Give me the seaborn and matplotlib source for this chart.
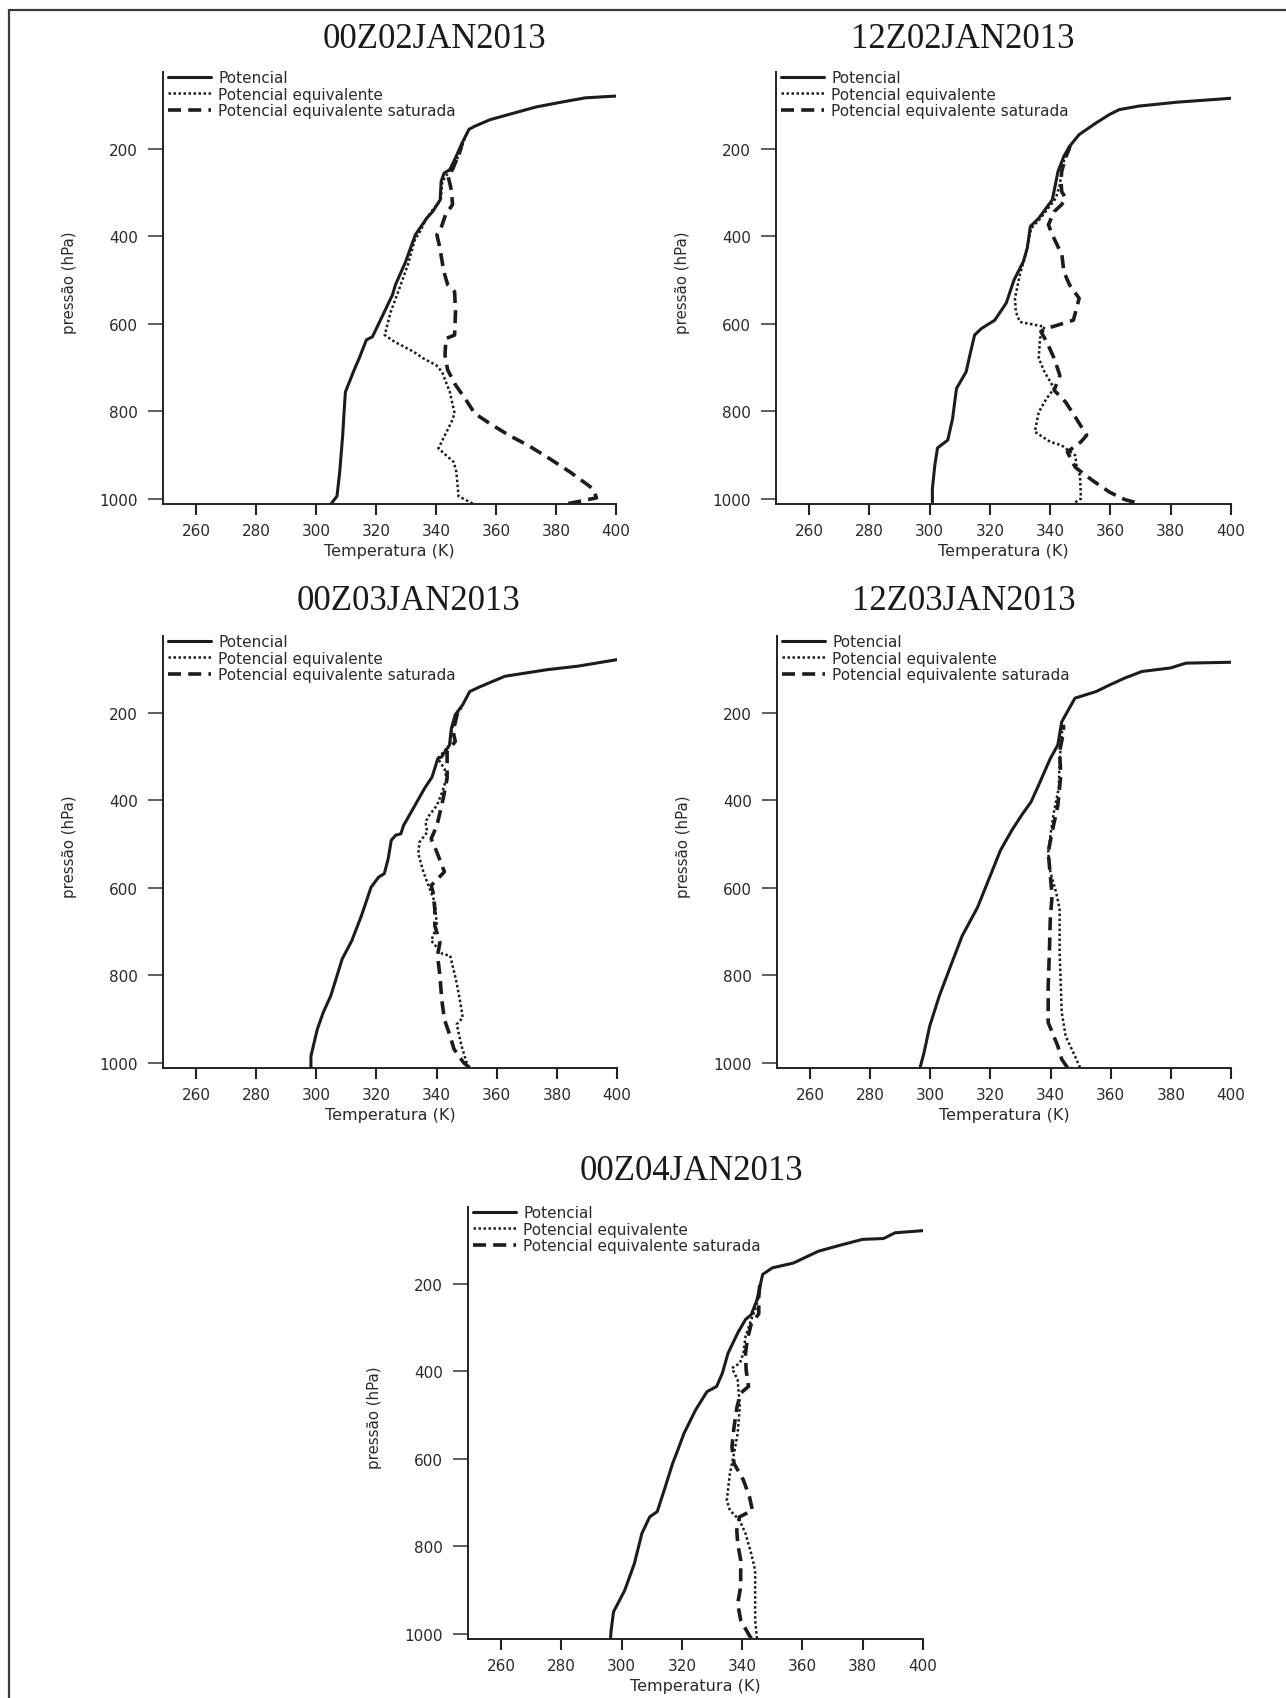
import matplotlib
matplotlib.use("Agg")
import matplotlib.pyplot as plt
import seaborn as sns
from matplotlib.lines import Line2D

# ---------------- data ----------------
titles = ["00Z02JAN2013", "12Z02JAN2013", "00Z03JAN2013", "12Z03JAN2013", "00Z04JAN2013"]
labels = ["Potencial", "Potencial equivalente", "Potencial equivalente saturada"]
xticks = [260, 280, 300, 320, 340, 360, 380, 400]
yticks = [200, 400, 600, 800, 1000]

# 00Z02JAN2013
p1_pot = [1011, 994, 939, 855, 808, 756, 706, 679, 637, 630, 580, 534, 511, 458, 397, 359, 344, 317, 275, 256, 248, 221, 183, 156, 149, 134, 122, 105, 95, 84, 80]
t1_pot = [305.1, 307.0, 307.9, 308.9, 309.3, 309.8, 312.7, 314.4, 316.8, 318.8, 322.3, 325.5, 326.5, 329.9, 333.1, 336.9, 338.9, 341.4, 341.7, 342.7, 344.6, 346.5, 349.0, 351.0, 352.9, 358.0, 364.3, 373.3, 380.9, 389.8, 400.0]
p1_eq = [1011, 994, 939, 916, 885, 824, 805, 756, 710, 695, 679, 664, 641, 626, 573, 527, 466, 405, 397, 359, 340, 317, 275, 256, 237, 214, 187, 165]
t1_eq = [352.2, 347.5, 346.8, 345.9, 340.8, 345.2, 346.2, 344.6, 342.0, 340.1, 335.7, 332.5, 326.1, 322.9, 324.9, 327.4, 330.6, 333.1, 334.1, 336.9, 338.9, 341.6, 342.1, 344.0, 345.9, 347.8, 349.0, 350.3]
p1_sat = [1011, 998, 977, 939, 905, 878, 855, 828, 805, 771, 740, 706, 672, 634, 626, 573, 527, 511, 481, 427, 397, 389, 363, 351, 328, 298, 279, 260, 248, 210, 187]
t1_sat = [384.1, 393.5, 392.3, 384.7, 377.1, 370.7, 364.3, 357.9, 352.9, 349.7, 346.5, 343.9, 343.0, 343.3, 346.2, 346.5, 346.2, 343.9, 342.6, 341.3, 340.3, 341.3, 342.6, 343.2, 345.5, 345.2, 344.6, 343.9, 345.5, 347.8, 348.8]

# 12Z02JAN2013
p2_pot = [1008, 977, 924, 884, 866, 817, 748, 710, 679, 626, 611, 592, 553, 500, 458, 427, 378, 359, 317, 252, 218, 195, 168, 141, 122, 111, 103, 94, 85]
t2_pot = [300.9, 300.9, 301.7, 302.6, 306.0, 307.6, 308.9, 312.1, 313.1, 314.9, 317.2, 321.6, 325.4, 328.0, 331.1, 332.4, 333.4, 336.2, 340.7, 342.6, 344.5, 346.4, 349.6, 355.3, 359.7, 362.9, 369.3, 382.0, 400.0]
p2_eq = [1008, 1000, 947, 931, 901, 878, 870, 847, 802, 771, 748, 710, 679, 634, 607, 596, 573, 542, 489, 443, 405, 382, 359, 313, 282, 252, 229, 208, 193]
t2_eq = [348.3, 350.2, 349.9, 348.9, 348.3, 343.8, 340.0, 334.9, 336.2, 338.8, 341.3, 338.1, 336.2, 336.6, 338.1, 329.9, 328.6, 328.3, 329.9, 331.8, 333.0, 333.7, 336.8, 341.9, 343.2, 343.8, 344.5, 345.7, 347.0]
p2_sat = [1008, 1002, 985, 958, 928, 893, 870, 855, 813, 779, 752, 718, 679, 641, 618, 611, 603, 592, 542, 511, 481, 443, 397, 374, 344, 328, 313, 298, 275, 252, 221, 199]
t2_sat = [368.0, 364.8, 359.7, 354.0, 348.3, 345.7, 350.2, 352.1, 348.3, 345.1, 341.3, 343.2, 341.3, 338.8, 336.9, 338.8, 342.6, 347.7, 349.6, 346.4, 344.5, 343.9, 340.7, 339.4, 341.3, 343.8, 345.1, 343.8, 343.6, 343.8, 345.1, 346.4]

# 00Z03JAN2013
p3_pot = [1011, 985, 924, 885, 847, 763, 721, 664, 599, 576, 568, 534, 492, 480, 477, 458, 412, 373, 347, 305, 301, 274, 236, 205, 182, 152, 141, 117, 102, 94, 79]
t3_pot = [298.2, 298.2, 300.3, 302.3, 304.8, 308.6, 311.8, 315.0, 318.2, 320.7, 322.6, 323.9, 324.9, 326.4, 328.1, 329.0, 332.8, 336.0, 338.5, 340.4, 341.7, 344.3, 344.9, 346.2, 348.7, 351.0, 354.4, 362.7, 376.7, 386.9, 400.0]
p3_eq = [1011, 1000, 962, 912, 897, 855, 809, 755, 752, 721, 687, 633, 599, 564, 522, 496, 473, 450, 435, 412, 381, 350, 328, 305, 274, 236, 205, 185]
t3_eq = [350.9, 350.0, 348.3, 346.7, 348.7, 347.7, 346.4, 344.5, 342.0, 338.2, 340.1, 339.4, 337.5, 335.6, 333.9, 334.3, 336.9, 336.3, 337.5, 340.1, 341.9, 343.3, 342.6, 340.4, 344.3, 345.2, 346.5, 348.7]
p3_sat = [1011, 1000, 969, 939, 901, 855, 801, 755, 725, 687, 649, 610, 595, 564, 519, 488, 458, 435, 396, 350, 320, 289, 266, 243, 205, 190]
t3_sat = [350.9, 349.0, 345.8, 344.5, 342.6, 341.7, 341.1, 340.3, 341.1, 339.4, 339.4, 338.8, 338.2, 342.6, 340.1, 338.2, 340.1, 340.9, 342.2, 343.5, 343.5, 343.5, 346.2, 345.5, 346.8, 348.1]

# 12Z03JAN2013
p4_pot = [1011, 977, 916, 847, 778, 710, 645, 580, 515, 469, 435, 404, 366, 305, 274, 221, 205, 167, 152, 137, 121, 106, 98, 87, 85]
t4_pot = [296.6, 297.9, 299.8, 303.0, 306.8, 310.6, 315.7, 319.5, 323.3, 327.1, 330.3, 333.5, 336.0, 339.9, 342.4, 343.7, 345.0, 348.1, 355.1, 359.6, 364.7, 370.4, 379.9, 385.0, 400.0]
p4_eq = [1011, 985, 939, 885, 824, 748, 648, 610, 564, 519, 473, 427, 373, 312, 251, 228]
t4_eq = [349.8, 348.1, 345.0, 343.7, 343.4, 343.0, 343.0, 341.8, 339.9, 339.2, 340.1, 341.1, 342.7, 343.0, 343.7, 344.0]
p4_sat = [1011, 992, 962, 908, 824, 748, 671, 618, 572, 519, 473, 412, 343, 289, 244, 228]
t4_sat = [345.6, 343.7, 342.4, 339.2, 339.2, 339.6, 339.9, 340.5, 339.9, 339.2, 340.5, 342.4, 343.4, 343.0, 344.3, 344.3]

# 00Z04JAN2013
p5_pot = [1011, 992, 950, 901, 840, 771, 733, 721, 668, 611, 588, 542, 489, 447, 435, 405, 359, 313, 282, 271, 237, 206, 179, 164, 153, 126, 114, 99, 97, 84, 79]
t5_pot = [296.3, 296.5, 297.3, 301.0, 304.2, 306.7, 309.3, 311.8, 314.3, 316.9, 318.2, 320.7, 324.5, 328.3, 331.5, 333.4, 335.3, 338.5, 341.1, 343.0, 344.9, 345.9, 346.8, 350.0, 357.0, 365.3, 371.6, 379.9, 386.9, 390.7, 400.0]
p5_eq = [1011, 969, 855, 817, 771, 740, 718, 695, 634, 588, 542, 481, 420, 393, 382, 359, 321, 282, 260, 229, 198]
t5_eq = [344.9, 344.3, 344.3, 343.0, 341.1, 339.1, 335.9, 334.9, 335.9, 337.3, 338.5, 339.2, 338.5, 336.6, 339.2, 340.4, 341.1, 343.0, 344.3, 345.5, 346.2]
p5_sat = [1011, 996, 969, 931, 893, 832, 794, 763, 733, 718, 687, 649, 611, 573, 527, 481, 450, 435, 397, 359, 328, 292, 269, 229, 198]
t5_sat = [343.0, 341.7, 339.5, 338.5, 339.5, 339.5, 338.5, 338.2, 339.1, 343.4, 342.4, 340.4, 337.3, 336.6, 337.3, 338.3, 339.5, 342.1, 341.3, 341.1, 341.7, 343.0, 345.5, 345.5, 345.9]

# ---------------- style ----------------
sns.set_theme(style="ticks")
plt.rcParams['font.family'] = ['DejaVu Sans']
INK = '#1c1c1c'
TXT = '#2a2a2a'

W, H = 1286, 1699
fig = plt.figure(figsize=(W / 100, H / 100), dpi=100)
fig.patch.set_facecolor('white')

# outer frame (left and top edges)
fig.add_artist(Line2D([8.5 / W, 8.5 / W], [0, 1 - 11 / H], transform=fig.transFigure, color='#3a3a3a', lw=1.6))
fig.add_artist(Line2D([8.5 / W, 1.0], [1 - 11 / H, 1 - 11 / H], transform=fig.transFigure, color='#3a3a3a', lw=1.6))

# (left, right, top, bottom) in pixels, title centre (x, y)
boxes = [(163, 616, 73, 505), (776, 1231, 73, 505), (163, 617, 637, 1069),
         (777, 1231, 637, 1069), (468, 923, 1208, 1640)]
title_pos = [(434, 40), (963, 40), (408, 601), (964, 601), (691, 1172)]
series = [
    [(t1_pot, p1_pot), (t1_eq, p1_eq), (t1_sat, p1_sat)],
    [(t2_pot, p2_pot), (t2_eq, p2_eq), (t2_sat, p2_sat)],
    [(t3_pot, p3_pot), (t3_eq, p3_eq), (t3_sat, p3_sat)],
    [(t4_pot, p4_pot), (t4_eq, p4_eq), (t4_sat, p4_sat)],
    [(t5_pot, p5_pot), (t5_eq, p5_eq), (t5_sat, p5_sat)],
]
styles = [dict(linewidth=2.2, linestyle='-'),
          dict(linewidth=1.8, linestyle=(0, (1.0, 1.0))),
          dict(linewidth=2.6, linestyle=(0, (3.6, 2.0)))]

for (l, r, t, b), title, (tx, ty), ser in zip(boxes, titles, title_pos, series):
    ax = fig.add_axes([l / W, 1 - b / H, (r - l) / W, (b - t) / H])
    ax.set_facecolor('white')
    for (tt, pp), lab, st in zip(ser, labels, styles):
        sns.lineplot(x=tt, y=pp, sort=False, estimator=None, ax=ax, color=INK,
                     label=lab, legend=False, **st)
    ax.set_xlim(249, 400)
    ax.set_ylim(1012, 25)
    ax.set_xticks(xticks)
    ax.set_yticks(yticks)
    sns.despine(ax=ax)
    for s in ('left', 'bottom'):
        ax.spines[s].set_linewidth(1.4)
        ax.spines[s].set_color('#222222')
    ax.tick_params(axis='y', length=11, width=1.2, pad=7, labelsize=11,
                   color='#444444', labelcolor=TXT)
    ax.tick_params(axis='x', length=8, width=1.5, pad=6, labelsize=11,
                   color='#222222', labelcolor=TXT)
    ax.set_xlabel("Temperatura (K)", fontsize=11.5, color=TXT)
    ax.xaxis.set_label_coords(0.5, -0.09)
    ax.set_ylabel("pressão (hPa)", fontsize=10.8, color=TXT)
    ax.yaxis.set_label_coords(-0.19, 0.515)
    ax.legend(loc='upper left', bbox_to_anchor=(0.011, 1.004), frameon=False,
              fontsize=11, handlelength=2.8, handletextpad=0.5,
              labelspacing=0.1, borderpad=0, borderaxespad=0, labelcolor=TXT)
    fig.text(tx / W, 1 - ty / H, title, ha='center', va='center', fontsize=25,
             family=['Liberation Serif', 'DejaVu Serif'], color='#1a1a1a')

fig.savefig("out.png", dpi=100, facecolor='white')
